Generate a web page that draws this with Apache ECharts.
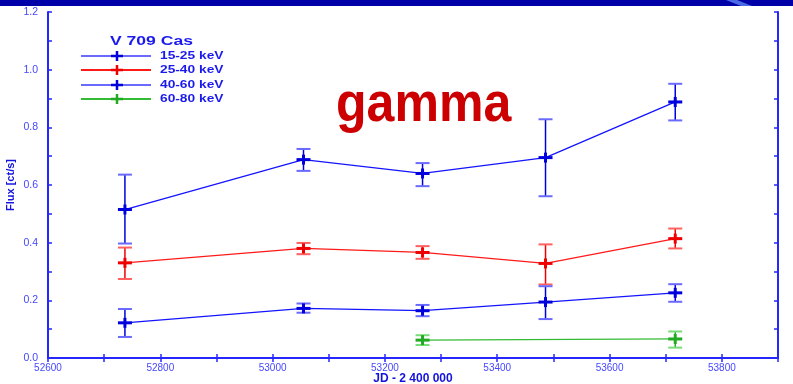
<!DOCTYPE html>
<html>
<head>
<meta charset="utf-8">
<script src="https://cdn.jsdelivr.net/npm/echarts@6/dist/echarts.min.js"></script>
<style>html,body{margin:0;padding:0;background:#fff}#c{width:793px;height:384px}</style>
</head>
<body>
<div id="c"></div>
<script>
const jd = [52737, 53055, 53267, 53486, 53717];
const flux15 = [0.515, 0.688, 0.640, 0.695, 0.888];
const lo15 = [0.397, 0.649, 0.596, 0.561, 0.824];
const hi15 = [0.636, 0.725, 0.676, 0.828, 0.951];
const flux25 = [0.330, 0.380, 0.366, 0.328, 0.414];
const lo25 = [0.274, 0.360, 0.344, 0.255, 0.380];
const hi25 = [0.383, 0.399, 0.388, 0.394, 0.449];
const flux40 = [0.122, 0.172, 0.164, 0.194, 0.226];
const lo40 = [0.073, 0.157, 0.145, 0.135, 0.195];
const hi40 = [0.170, 0.189, 0.184, 0.249, 0.256];
const jd60 = [53267, 53717];
const flux60 = [0.062, 0.066];
const lo60 = [0.045, 0.036];
const hi60 = [0.079, 0.092];
const seriesNames = ['15-25 keV', '25-40 keV', '40-60 keV', '60-80 keV'];
const xTicks = [52600, 52800, 53000, 53200, 53400, 53600, 53800];
const yTicks = ['0.0', '0.2', '0.4', '0.6', '0.8', '1.0', '1.2'];

const styles = [
  {line: '#1414ff', mark: '#0000dd', cap: '#6a6aff', legLine: '#6a6aff'},
  {line: '#ff1a1a', mark: '#ee0000', cap: '#ff6060', legLine: '#ff1a1a'},
  {line: '#1414ff', mark: '#0000dd', cap: '#6a6aff', legLine: '#6a6aff'},
  {line: '#33bb33', mark: '#22aa22', cap: '#77dd77', legLine: '#33bb33'}
];

function zip(xs, ys) { return xs.map((x, i) => [x, ys[i]]); }
function zip4(xs, ys, l, h) { return xs.map((x, i) => [x, ys[i], l[i], h[i]]); }

function errSeries(data, st) {
  return {
    type: 'custom',
    data: data,
    z: 5,
    renderItem: function (params, api) {
      const p = api.coord([api.value(0), api.value(1)]);
      const pl = api.coord([api.value(0), api.value(2)]);
      const ph = api.coord([api.value(0), api.value(3)]);
      const cw = 7;
      return {
        type: 'group',
        children: [
          {type: 'line', shape: {x1: pl[0], y1: pl[1], x2: ph[0], y2: ph[1]}, style: {stroke: st.mark, lineWidth: 1.5}},
          {type: 'line', shape: {x1: ph[0] - cw, y1: ph[1], x2: ph[0] + cw, y2: ph[1]}, style: {stroke: st.cap, lineWidth: 2}},
          {type: 'line', shape: {x1: pl[0] - cw, y1: pl[1], x2: pl[0] + cw, y2: pl[1]}, style: {stroke: st.cap, lineWidth: 2}},
          {type: 'line', shape: {x1: p[0] - 7, y1: p[1], x2: p[0] + 7, y2: p[1]}, style: {stroke: st.mark, lineWidth: 3}},
          {type: 'line', shape: {x1: p[0], y1: p[1] - 5, x2: p[0], y2: p[1] + 5}, style: {stroke: st.mark, lineWidth: 3}}
        ]
      };
    }
  };
}

function lineSeries(data, st, name) {
  return {type: 'line', name: name, data: data, symbol: 'none', lineStyle: {color: st.line, width: 1.3}, z: 4, animation: false};
}

const legendY = [56, 70, 85, 99];
const legendGraphics = [];
legendGraphics.push({type: 'text', x: 110, y: 41, scaleX: 1.3, style: {text: 'V 709 Cas', fill: '#1a1aee', font: 'bold 13.5px "Liberation Sans", Arial, sans-serif', verticalAlign: 'middle'}});
seriesNames.forEach((n, i) => {
  const st = styles[i];
  const y = legendY[i];
  legendGraphics.push({type: 'line', shape: {x1: 81, y1: y, x2: 151, y2: y}, style: {stroke: st.legLine, lineWidth: 2}});
  legendGraphics.push({type: 'line', shape: {x1: 111, y1: y, x2: 123, y2: y}, style: {stroke: st.mark, lineWidth: 2.5}});
  legendGraphics.push({type: 'line', shape: {x1: 117, y1: y - 5, x2: 117, y2: y + 5}, style: {stroke: st.mark, lineWidth: 2.5}});
  legendGraphics.push({type: 'text', x: 160, y: y, scaleX: 1.25, style: {text: n, fill: '#1a1aee', font: 'bold 11px "Liberation Sans", Arial, sans-serif', verticalAlign: 'middle'}});
});

const axisColor = '#2626ff';
const labelColor = '#4646ff';
const font = '"Liberation Sans", Arial, sans-serif';

const chart = echarts.init(document.getElementById('c'), null, {renderer: 'canvas'});
chart.setOption({
  animation: false,
  backgroundColor: '#ffffff',
  grid: {left: 48, right: 15, top: 12, bottom: 26, outerBoundsMode: 'none', containLabel: false},
  xAxis: [{
    type: 'value', min: 52600, max: 53900, interval: 100,
    name: 'JD - 2 400 000', nameLocation: 'middle', nameGap: 15, nameMoveOverlap: false,
    nameTextStyle: {color: '#1414dd', fontWeight: 'bold', fontSize: 12, fontFamily: font},
    axisLine: {lineStyle: {color: axisColor, width: 2}},
    axisTick: {inside: true, length: 4, lineStyle: {color: axisColor, width: 1.5}},
    axisLabel: {color: labelColor, fontSize: 10, fontFamily: font, margin: 5,
      formatter: v => xTicks.indexOf(Math.round(v)) >= 0 ? String(Math.round(v)) : ''},
    splitLine: {show: false}
  }, {
    type: 'value', position: 'top', min: 52600, max: 53900, interval: 100,
    axisLine: {lineStyle: {color: axisColor, width: 2}},
    axisTick: {inside: true, length: 4, lineStyle: {color: axisColor, width: 1.5}},
    axisLabel: {show: false}, splitLine: {show: false}
  }],
  yAxis: [{
    type: 'value', min: 0, max: 1.2, interval: 0.1,
    name: 'Flux [ct/s]', nameLocation: 'middle', nameGap: 32, nameMoveOverlap: false,
    nameTextStyle: {color: '#1414dd', fontWeight: 'bold', fontSize: 11, fontFamily: font},
    axisLine: {lineStyle: {color: axisColor, width: 2}},
    axisTick: {inside: true, length: 4, lineStyle: {color: axisColor, width: 1.5}},
    axisLabel: {color: labelColor, fontSize: 10.5, fontFamily: font, margin: 10,
      formatter: v => { const k = Math.round(v * 10); return k % 2 === 0 ? yTicks[k / 2] : ''; }},
    splitLine: {show: false}
  }, {
    type: 'value', position: 'right', min: 0, max: 1.2, interval: 0.1,
    axisLine: {lineStyle: {color: axisColor, width: 2}},
    axisTick: {inside: true, length: 4, lineStyle: {color: axisColor, width: 1.5}},
    axisLabel: {show: false}, splitLine: {show: false}
  }],
  graphic: [
    {type: 'rect', shape: {x: 0, y: 0, width: 793, height: 6}, style: {fill: '#0000a8'}, z: 10},
    {type: 'polygon', shape: {points: [[726, 0], [737, 0], [752, 6], [741, 6]]}, style: {fill: '#4a6ae6'}, z: 11},
    {type: 'text', x: 336, y: 78, scaleX: 0.91, style: {text: 'gamma', fill: '#cc0000', font: 'bold 55px "Liberation Sans", Arial, sans-serif', verticalAlign: 'top'}, z: 10}
  ].concat(legendGraphics),
  series: [
    lineSeries(zip(jd, flux15), styles[0], seriesNames[0]),
    lineSeries(zip(jd, flux25), styles[1], seriesNames[1]),
    lineSeries(zip(jd, flux40), styles[2], seriesNames[2]),
    lineSeries(zip(jd60, flux60), styles[3], seriesNames[3]),
    errSeries(zip4(jd, flux15, lo15, hi15), styles[0]),
    errSeries(zip4(jd, flux25, lo25, hi25), styles[1]),
    errSeries(zip4(jd, flux40, lo40, hi40), styles[2]),
    errSeries(zip4(jd60, flux60, lo60, hi60), styles[3])
  ]
});
</script>
</body>
</html>
